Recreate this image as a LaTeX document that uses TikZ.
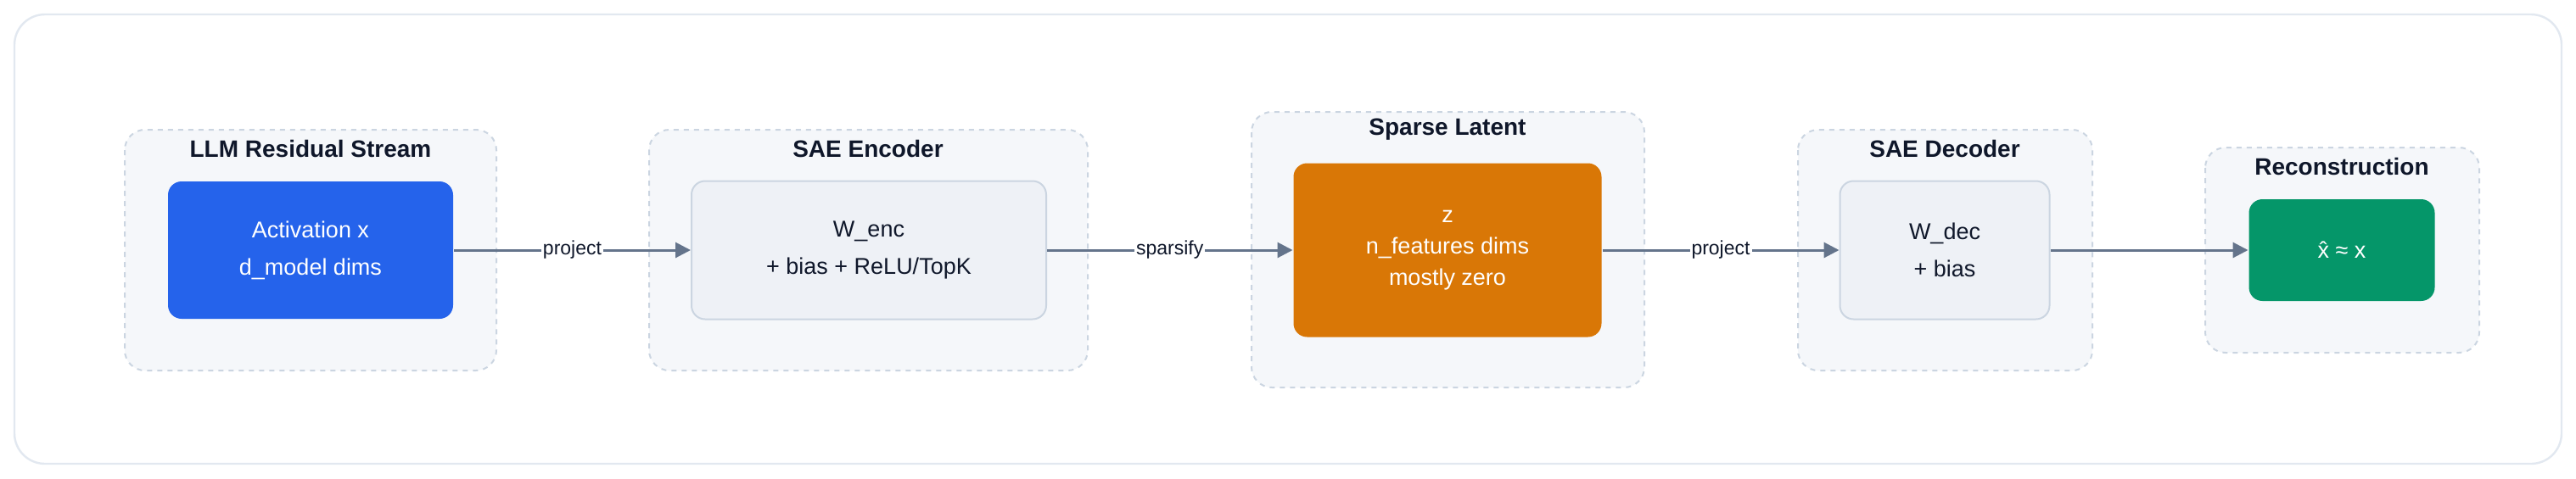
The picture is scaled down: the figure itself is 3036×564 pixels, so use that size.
\documentclass[tikz,border=0pt]{standalone}
\usepackage{fontspec}
\setmainfont{Liberation Sans}
\usetikzlibrary{arrows.meta}
\definecolor{grpfill}{HTML}{F5F7FA}
\definecolor{grpline}{HTML}{CBD5E1}
\definecolor{boxfill}{HTML}{EEF1F6}
\definecolor{blueb}{HTML}{2563EB}
\definecolor{orangeb}{HTML}{D97706}
\definecolor{greenb}{HTML}{059669}
\definecolor{arr}{HTML}{64748B}
\definecolor{txt}{HTML}{0F172A}
\definecolor{frame}{HTML}{E2E8F0}
\begin{document}
\begin{tikzpicture}[x=0.5pt,y=-0.5pt,
  grp/.style={draw=grpline,fill=grpfill,dashed,line width=1pt,rounded corners=12pt},
  ttl/.style={font=\fontsize{14}{16}\selectfont\bfseries,text=txt,anchor=center},
  box/.style={rounded corners=8pt,line width=1pt,align=center,font=\fontsize{13.5}{22}\selectfont,inner sep=0pt},
  conn/.style={draw=arr,line width=1.5pt,-{Triangle[length=9pt,width=9pt]}},
  lbl/.style={fill=white,font=\fontsize{11.5}{13}\selectfont,text=txt,inner sep=1pt}]
\useasboundingbox (0,0) rectangle (3036,564);
\fill[white] (0,0) rectangle (3036,564);
\draw[frame,line width=1.2pt,fill=white,rounded corners=18pt] (17,17) rectangle (3019,547);
% groups
\draw[grp] (147,153) rectangle (585,437);
\node[ttl] (t1) at (366,175) {LLM Residual Stream};
\draw[grp] (765,153) rectangle (1282,437);
\node[ttl] (t2) at (1023,175) {SAE Encoder};
\draw[grp] (1475,132) rectangle (1938,457);
\node[ttl] (t3) at (1706,153) {Sparse Latent};
\draw[grp] (2119,153) rectangle (2466,437);
\node[ttl] (t4) at (2292,175) {SAE Decoder};
\draw[grp] (2599,174) rectangle (2922,416);
\node[ttl] (t5) at (2760,196) {Reconstruction};
% boxes
\node[box,fill=blueb,text=white,minimum width=168pt,minimum height=81pt] (a) at (366,295) {Activation x\\d\_model dims};
\node[box,fill=boxfill,draw=grpline,text=txt,minimum width=209pt,minimum height=81.5pt] (b) at (1024,295) {W\_enc\\+ bias + ReLU/TopK};
\node[box,fill=orangeb,text=white,minimum width=181.5pt,minimum height=102.5pt,font=\fontsize{13.5}{18.5}\selectfont] (c) at (1706,295) {z\\n\_features dims\\mostly zero};
\node[box,fill=boxfill,draw=grpline,text=txt,minimum width=123.5pt,minimum height=81.5pt] (d) at (2292,295) {W\_dec\\+ bias};
\node[box,fill=greenb,text=white,minimum width=109.5pt,minimum height=60pt] (e) at (2760,295) {x̂ ≈ x};
% connectors
\draw[conn] (a.east) -- node[lbl] {project} (b.west);
\draw[conn] (b.east) -- node[lbl] {sparsify} (c.west);
\draw[conn] (c.east) -- node[lbl] {project} (d.west);
\draw[conn] (d.east) -- (e.west);
\end{tikzpicture}
\end{document}
